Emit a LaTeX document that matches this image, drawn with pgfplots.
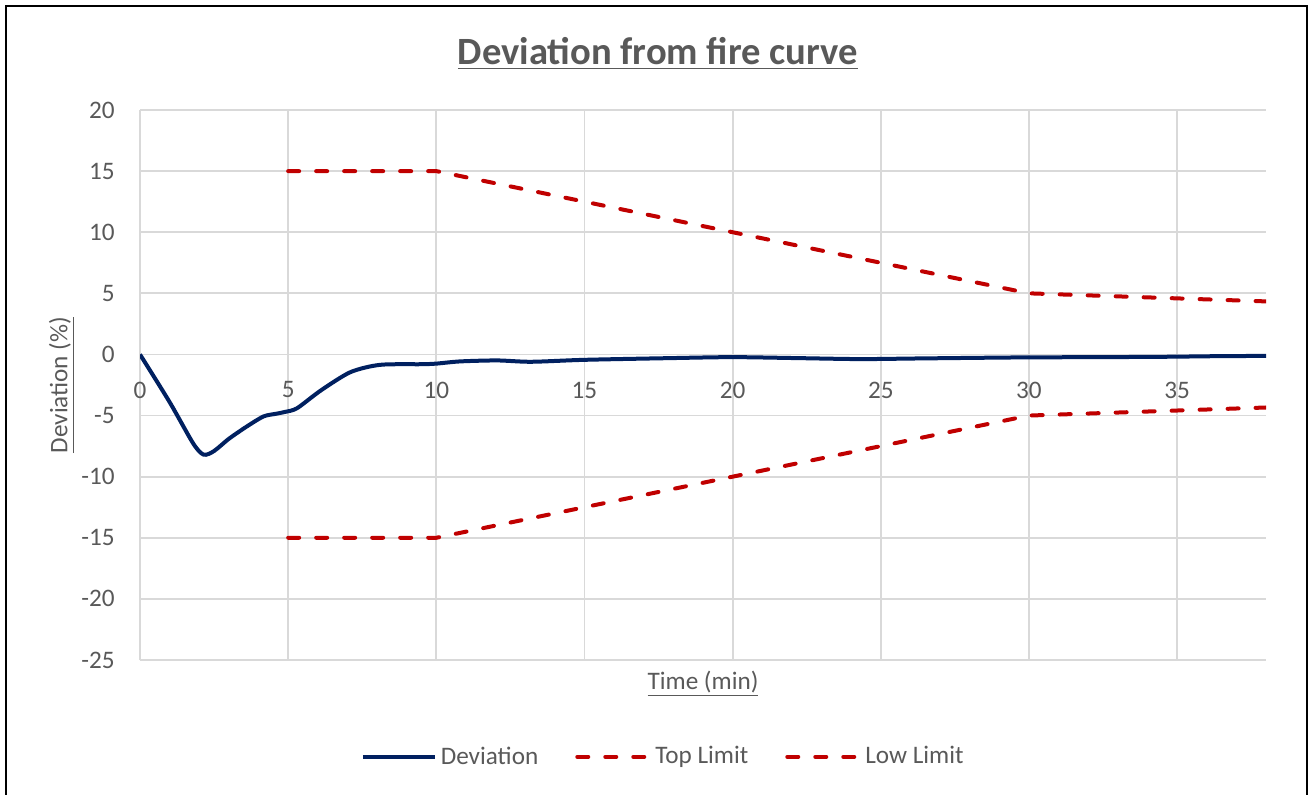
\documentclass[border=0pt]{standalone}
\usepackage{fontspec}
\setmainfont{Carlito}
\usepackage{pgfplots}
\pgfplotsset{compat=1.18}

\definecolor{txtgray}{HTML}{595959}
\definecolor{gridgray}{HTML}{D9D9D9}
\definecolor{devblue}{HTML}{002060}
\definecolor{limred}{HTML}{C00000}

\newcommand{\labfont}{\fontsize{12.6}{15}\selectfont}

\begin{document}
\begin{tikzpicture}
% 1 px of the reference = 0.5pt
\useasboundingbox (0,0) rectangle (654.5pt,-397.5pt);
\draw[line width=1.2pt] (3pt,-400pt) -- (3pt,-3pt) -- (653.5pt,-3pt) -- (653.5pt,-400pt);

\node[anchor=base, font=\fontsize{19.3}{23}\selectfont\bfseries, text=txtgray]
  at (329pt,-32.5pt) {\underline{Deviation from fire curve}};

\begin{axis}[
  at={(70pt,-330pt)}, anchor=south west,
  scale only axis, width=563pt, height=275pt,
  xmin=0, xmax=38, ymin=-25, ymax=20,
  xtick={0,5,...,35}, ytick={-25,-20,...,20},
  axis x line=middle, axis y line=left,
  hide obscured x ticks=false, hide obscured y ticks=false,
  axis line style={draw=none, -},
  major tick style={draw=none},
  grid=major,
  major grid style={gridgray, line width=0.9pt},
  /pgf/number format/assume math mode=true,
  tick label style={font=\labfont, text=txtgray},
  xticklabel style={anchor=north, yshift=-8pt},
  yticklabel style={anchor=east, xshift=-7pt},
  xlabel={\underline{Time (min)}},
  ylabel={\underline{Deviation (\%)}},
  label style={font=\labfont, text=txtgray},
  xlabel style={at={(axis description cs:0.5,-0.0436)}, anchor=center},
  ylabel style={at={(axis description cs:-0.0693,0.5)}, anchor=center, rotate=0},
  legend columns=3,
  legend style={at={(axis description cs:0.4655,-0.176)}, anchor=center,
    draw=none, fill=none, font=\labfont, text=txtgray,
    /tikz/every even column/.append style={column sep=16.5pt}},
  legend image code/.code={\draw[#1] (0pt,0pt) -- (36pt,0pt);},
  legend cell align=left,
]
\addplot[devblue, line width=2pt, smooth, tension=0.45] coordinates {
  (0,0) (1,-3.9) (1.8,-7.3) (2.15,-8.2) (2.5,-7.9) (3.0,-6.9) (3.6,-5.9)
  (4.17,-5.07) (4.6,-4.85) (4.9,-4.7) (5.3,-4.4) (6.1,-2.95) (7.1,-1.45)
  (8.1,-0.85) (9.5,-0.8) (10,-0.75) (10.8,-0.57) (12.05,-0.49) (13.2,-0.6)
  (15,-0.44) (17.9,-0.3) (20,-0.22) (22.2,-0.3) (24.3,-0.38) (26.2,-0.33)
  (28.5,-0.27) (30,-0.24) (34.1,-0.2) (36.4,-0.14) (38,-0.12)
};
\addlegendentry{Deviation}
\addplot[limred, line width=2pt, line cap=round, dash pattern=on 5.5pt off 8.5pt] coordinates {
  (5,15) (10,15) (20,10) (30,5) (38,4.34)
};
\addlegendentry{Top Limit}
\addplot[limred, line width=2pt, line cap=round, dash pattern=on 5.5pt off 8.5pt] coordinates {
  (5,-15) (10,-15) (20,-10) (30,-5) (38,-4.34)
};
\addlegendentry{Low Limit}
\end{axis}
\end{tikzpicture}
\end{document}
